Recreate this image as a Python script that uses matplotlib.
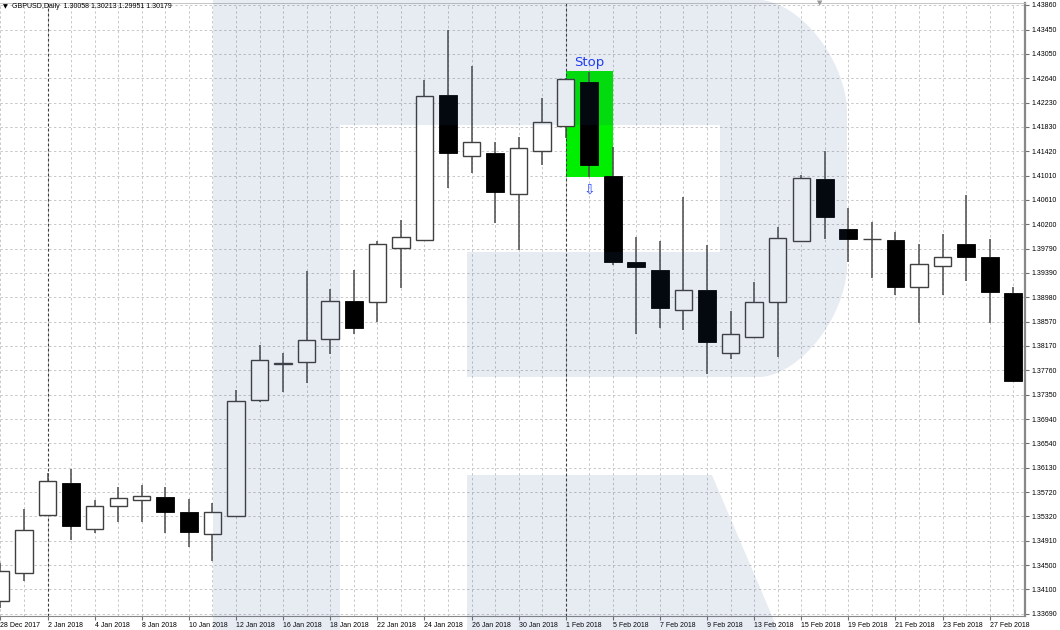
import matplotlib
matplotlib.use('Agg')
import matplotlib.pyplot as plt
from matplotlib.patches import Polygon, Rectangle
import numpy as np

plt.rcParams['font.family'] = ['Liberation Sans', 'DejaVu Sans']

# GBPUSD daily candles, 28 Dec 2017 - 28 Feb 2018
dates = ['28 Dec 2017', '29 Dec 2017', '2 Jan 2018', '3 Jan 2018', '4 Jan 2018',
         '5 Jan 2018', '8 Jan 2018', '9 Jan 2018', '10 Jan 2018', '11 Jan 2018',
         '12 Jan 2018', '15 Jan 2018', '16 Jan 2018', '17 Jan 2018', '18 Jan 2018',
         '19 Jan 2018', '22 Jan 2018', '23 Jan 2018', '24 Jan 2018', '25 Jan 2018',
         '26 Jan 2018', '29 Jan 2018', '30 Jan 2018', '31 Jan 2018', '1 Feb 2018',
         '2 Feb 2018', '5 Feb 2018', '6 Feb 2018', '7 Feb 2018', '8 Feb 2018',
         '9 Feb 2018', '12 Feb 2018', '13 Feb 2018', '14 Feb 2018', '15 Feb 2018',
         '16 Feb 2018', '19 Feb 2018', '20 Feb 2018', '21 Feb 2018', '22 Feb 2018',
         '23 Feb 2018', '26 Feb 2018', '27 Feb 2018', '28 Feb 2018']

opens = [1.33912, 1.34369, 1.35338, 1.35872, 1.35104, 1.35488, 1.35588, 1.35649,
         1.35393, 1.35031, 1.35326, 1.37269, 1.37860, 1.37893, 1.38277, 1.38912,
         1.38905, 1.39807, 1.39941, 1.42352, 1.41333, 1.41383, 1.40704, 1.41422,
         1.41844, 1.42579, 1.41009, 1.39573, 1.39429, 1.38766, 1.39095, 1.38053,
         1.38311, 1.38895, 1.39914, 1.40959, 1.40114, 1.39944, 1.39935, 1.39156,
         1.39496, 1.39874, 1.39647, 1.39055]
highs = [1.34546, 1.35438, 1.36039, 1.36111, 1.35593, 1.35816, 1.35844, 1.35816,
         1.35610, 1.35538, 1.37430, 1.38177, 1.38043, 1.39418, 1.39117, 1.39434,
         1.39919, 1.40269, 1.42607, 1.43442, 1.42836, 1.41567, 1.41656, 1.42302,
         1.42641, 1.42741, 1.41489, 1.39981, 1.39919, 1.40659, 1.39857, 1.38750,
         1.39229, 1.40148, 1.41021, 1.41427, 1.40470, 1.40236, 1.40069, 1.39864,
         1.40036, 1.40682, 1.39947, 1.39151]
lows = [1.33790, 1.34241, 1.35326, 1.34925, 1.35037, 1.35221, 1.35221, 1.35047,
        1.34814, 1.34575, 1.35320, 1.37235, 1.37402, 1.37552, 1.38027, 1.38371,
        1.38561, 1.39139, 1.39935, 1.40809, 1.41059, 1.40224, 1.39768, 1.41188,
        1.41639, 1.40993, 1.39523, 1.38361, 1.38471, 1.38438, 1.37703, 1.37943,
        1.38311, 1.37987, 1.39914, 1.39947, 1.39563, 1.39301, 1.39022, 1.38549,
        1.39022, 1.39256, 1.38554, 1.37581]
closes = [1.34413, 1.35092, 1.35916, 1.35154, 1.35498, 1.35632, 1.35655, 1.35388,
          1.35054, 1.35388, 1.37247, 1.37937, 1.37886, 1.38260, 1.38922, 1.38471,
          1.39864, 1.39981, 1.42335, 1.41388, 1.41567, 1.40732, 1.41467, 1.41911,
          1.42619, 1.41193, 1.39568, 1.39485, 1.38795, 1.39095, 1.38227, 1.38366,
          1.38895, 1.39964, 1.40976, 1.40320, 1.39952, 1.39950, 1.39156, 1.39535,
          1.39657, 1.39647, 1.39062, 1.37581]

price_ticks = [1.43860, 1.43450, 1.43050, 1.42640, 1.42230, 1.41830, 1.41420,
               1.41010, 1.40610, 1.40200, 1.39790, 1.39390, 1.38980, 1.38570,
               1.38170, 1.37760, 1.37350, 1.36940, 1.36540, 1.36130, 1.35720,
               1.35320, 1.34910, 1.34500, 1.34100, 1.33690]

header = 'GBPUSD,Daily  1.30058 1.30213 1.29951 1.30179'
separators = [2, 24]           # month separators (candle index)
stop_from, stop_to = 24, 26    # green "Stop" box, candle index span
stop_low, stop_high = 1.40993, 1.42763

W, H = 1060, 630
fig = plt.figure(figsize=(W / 100, H / 100), dpi=100, facecolor='white')

# main chart
ax = fig.add_axes([0, 0.0227, 1025 / W, 0.9725], zorder=1)
ax.set_facecolor('white')

x = np.arange(len(dates))
o = np.array(opens); h = np.array(highs); l = np.array(lows); c = np.array(closes)
up = c >= o
top = np.maximum(o, c)
bot = np.minimum(o, c)

ax.add_patch(Rectangle((stop_from, stop_low), stop_to - stop_from, stop_high - stop_low,
                       facecolor='#00ee00', edgecolor='none', zorder=2))
for s in separators:
    ax.axvline(s, color='#3c3c3c', ls=(0, (2.5, 2)), lw=0.8, zorder=2.5)

ax.vlines(x, top, h, color='#4a4a4a', lw=1.1, zorder=3)
ax.vlines(x, l, bot, color='#4a4a4a', lw=1.1, zorder=3)
ax.bar(x[up], (top - bot)[up], bottom=bot[up], width=0.74, facecolor='white',
       edgecolor='#404040', lw=1.0, zorder=4)
ax.bar(x[~up], (top - bot)[~up], bottom=bot[~up], width=0.76, facecolor='black',
       edgecolor='black', lw=0.6, zorder=4)

ax.text(stop_from + 1, stop_high + 0.00145, 'Stop', color='#1f3cff', fontsize=9.5,
        ha='center', va='center', family=['DejaVu Sans'], zorder=6)
ax.text(stop_from + 1, stop_low - 0.0022, '\u21e9', color='#2a4bff', fontsize=10,
        ha='center', va='center', family=['DejaVu Sans'], zorder=6)

ax.set_xlim(-0.02, 43.5)
ax.set_ylim(1.33661, 1.43893)

ax.set_xticks(x[::2])
ax.set_xticklabels(dates[::2], ha='left')
ax.set_xticks(x[1::2], minor=True)
ax.set_yticks(price_ticks)
ax.set_yticklabels([f'{v:.5f}' for v in price_ticks])
ax.yaxis.tick_right()
ax.tick_params(axis='y', length=3, pad=2, labelsize=5, color='#707070')
ax.tick_params(axis='x', length=3, pad=1.5, labelsize=5, color='#707070')
ax.tick_params(axis='x', which='minor', length=0)

ax.grid(True, which='both', color='#c8c8c8', ls=(0, (2.5, 2.5)), lw=0.7, zorder=1)
ax.set_axisbelow(True)
ax.spines['left'].set_visible(False)
ax.spines['right'].set_color('#888888')
ax.spines['right'].set_linewidth(1.6)
ax.spines['bottom'].set_color('#888888')
ax.spines['top'].set_color('#bbbbbb')
ax.spines['top'].set_linewidth(0.6)

fig.text(3 / W, 1 - 7 / H, '\u25bc', fontsize=4.5, va='center', family=['DejaVu Sans'])
fig.text(11.5 / W, 1 - 7 / H, header, fontsize=5, va='center')

# translucent "R" watermark laid over the whole picture, in pixel coordinates
ov = fig.add_axes([0, 0, 1, 1], zorder=10)
ov.set_xlim(0, W)
ov.set_ylim(H, 0)
ov.axis('off')
ov.patch.set_alpha(0)
wm = dict(color='#2c498d', alpha=0.11, lw=0)


def corner(cx, cy, rx, ry, a0, a1, p=1.7, n=40):
    t = np.radians(np.linspace(a0, a1, n))
    ct, st = np.cos(t), np.sin(t)
    xs = cx + rx * np.sign(ct) * np.abs(ct) ** (2 / p)
    ys = cy + ry * np.sign(st) * np.abs(st) ** (2 / p)
    return list(zip(xs, ys))


body = [(213, 0), (760, 0)] + corner(760, 110, 87, 110, -90, 0) \
    + corner(760, 267, 87, 110, 0, 90) \
    + [(467, 377), (467, 252), (720, 252), (720, 125), (340, 125), (340, H), (213, H)]
ov.add_patch(Polygon(body, closed=True, **wm))
ov.add_patch(Polygon([(467, 475), (712, 475), (778, H), (467, H)], closed=True, **wm))
ov.text(820, 3, '\u25bc', color='#9a9a9a', fontsize=5, ha='center', va='center',
        family=['DejaVu Sans'])

fig.savefig('out.png', dpi=100, facecolor='white')
